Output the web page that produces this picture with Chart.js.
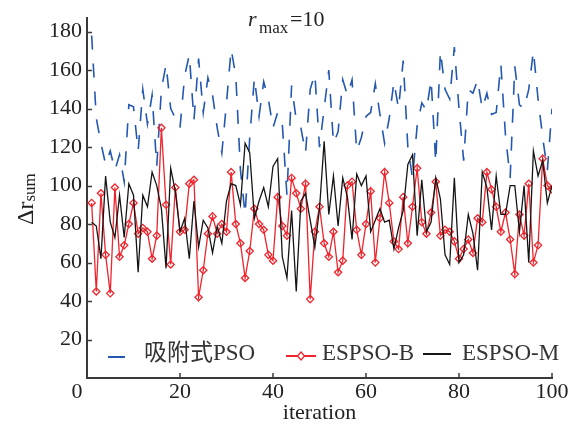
<!DOCTYPE html>
<html>
<head>
<meta charset="utf-8">
<script src="https://cdn.jsdelivr.net/npm/chart.js@4/dist/chart.umd.min.js"></script>
<style>
  html, body { margin: 0; padding: 0; background: #fff; }
  #wrap { width: 579px; height: 425px; }
</style>
</head>
<body>
<div id="wrap"><canvas id="chart" width="579" height="425"></canvas></div>
<script>
// iteration 1..100
const iterations = Array.from({ length: 100 }, (_, i) => i + 1);

// 吸附式PSO (dashed blue)
const psoValues = [
  178, 135, 122, 111, 118, 108, 116, 102, 142, 141,
  118, 150, 132, 147, 110, 150, 163, 140, 135, 130,
  157, 168, 134, 166, 138, 156, 147, 130, 117, 143,
  171, 157, 108, 85, 125, 156, 136, 154, 145, 130,
  138, 132, 95, 152, 134, 130, 117, 150, 158, 120,
  140, 160, 122, 128, 155, 147, 155, 118, 125, 136,
  138, 153, 137, 122, 135, 154, 140, 165, 120, 104,
  131, 143, 139, 155, 112, 170, 150, 145, 172, 140,
  113, 150, 148, 155, 140, 148, 137, 138, 163, 126,
  104, 162, 142, 140, 150, 170, 145, 125, 108, 140
];

// ESPSO-B (red, diamonds)
const espsoBValues = [
  91, 45, 96, 64, 44, 99, 63, 69, 80, 91,
  75, 78, 76, 62, 74, 130, 90, 59, 99, 76,
  77, 101, 103, 42, 56, 75, 84, 75, 80, 76,
  107, 80, 70, 52, 66, 88, 80, 77, 64, 61,
  94, 79, 74, 104, 96, 88, 101, 41, 76, 89,
  70, 63, 76, 55, 61, 100, 102, 77, 64, 80,
  97, 60, 83, 107, 91, 71, 67, 94, 70, 89,
  109, 81, 75, 86, 102, 74, 77, 76, 71, 62,
  67, 72, 65, 83, 81, 107, 98, 89, 76, 86,
  72, 54, 85, 74, 101, 60, 69, 114, 100, 98
];

// ESPSO-M (black)
const espsoMValues = [
  81, 79, 62, 105, 81, 73, 95, 73, 101, 95,
  55, 95, 89, 107, 100, 88, 57, 109, 97, 76,
  83, 62, 92, 68, 82, 78, 65, 79, 70, 92,
  101, 100, 90, 122, 117, 83, 92, 99, 89, 110,
  114, 63, 52, 87, 45, 92, 96, 82, 68, 88,
  123, 85, 105, 79, 104, 94, 72, 106, 100, 105,
  76, 82, 88, 81, 82, 67, 78, 87, 111, 116,
  74, 103, 76, 81, 104, 93, 64, 59, 104, 60,
  64, 85, 75, 56, 107, 99, 77, 105, 85, 85,
  100, 100, 76, 100, 60, 118, 105, 113, 91, 100
];

const seriesNames = ["吸附式PSO", "ESPSO-B", "ESPSO-M"];
const xTicks = [0, 20, 40, 60, 80, 100];
const yTicks = [20, 40, 60, 80, 100, 120, 140, 160, 180];

const BLUE = "#2458b0";
const RED = "#f0242c";
const BLACK = "#151515";
const AXIS = "#3a3a3a";
const SERIF = '"Liberation Serif", "Noto Sans CJK SC", serif';

function toPoints(values) {
  return values.map((v, i) => ({ x: iterations[i], y: v }));
}

// inward ticks, x labels, legend and the two titles
const decorations = {
  id: "decorations",
  afterDraw(chart) {
    const ctx = chart.ctx;
    const xs = chart.scales.x;
    const ys = chart.scales.y;
    const area = chart.chartArea;
    ctx.save();

    // tick marks pointing inside
    ctx.strokeStyle = AXIS;
    ctx.lineWidth = 1.5;
    ctx.beginPath();
    yTicks.forEach(v => {
      const py = Math.round(ys.getPixelForValue(v)) + 0.5;
      ctx.moveTo(area.left, py);
      ctx.lineTo(area.left + 5, py);
    });
    xTicks.forEach(v => {
      if (v === 0) return;
      const px = Math.round(xs.getPixelForValue(v));
      ctx.moveTo(px, area.bottom);
      ctx.lineTo(px, area.bottom - 5);
    });
    ctx.stroke();

    // x tick labels
    ctx.fillStyle = "#222";
    ctx.font = "22px " + SERIF;
    ctx.textAlign = "center";
    ctx.textBaseline = "middle";
    xTicks.forEach(v => {
      let px = xs.getPixelForValue(v);
      if (v === 0) px -= 10;
      ctx.fillText(String(v), px, 392);
    });
    ctx.fillText("iteration", (area.left + area.right) / 2, 413);

    // y title: Δr with subscript sum
    ctx.save();
    ctx.translate(33, 225);
    ctx.rotate(-Math.PI / 2);
    ctx.textAlign = "left";
    ctx.textBaseline = "alphabetic";
    ctx.font = "24px " + SERIF;
    ctx.fillText("Δr", 0, 0);
    const w = ctx.measureText("Δr").width;
    ctx.font = "17px " + SERIF;
    ctx.fillText("sum", w, 2);
    ctx.restore();

    // top title: r_max=10
    ctx.textAlign = "left";
    ctx.textBaseline = "alphabetic";
    ctx.font = "italic 22px " + SERIF;
    ctx.fillText("r", 248, 26);
    ctx.font = "17px " + SERIF;
    ctx.fillText("max", 259, 33);
    ctx.font = "22px " + SERIF;
    ctx.fillText("=10", 290, 26);

    // legend
    ctx.font = "23px " + SERIF;
    ctx.fillStyle = "#333";
    ctx.textBaseline = "middle";
    ctx.lineWidth = 2;

    ctx.strokeStyle = BLUE;
    ctx.beginPath();
    ctx.moveTo(108, 357);
    ctx.lineTo(125, 357);
    ctx.stroke();
    ctx.fillText(seriesNames[0], 144, 354);

    ctx.strokeStyle = RED;
    ctx.beginPath();
    ctx.moveTo(286, 356);
    ctx.lineTo(316, 356);
    ctx.stroke();
    ctx.lineWidth = 1.3;
    ctx.fillStyle = "#fff";
    ctx.beginPath();
    ctx.moveTo(301, 352);
    ctx.lineTo(304.5, 356);
    ctx.lineTo(301, 360);
    ctx.lineTo(297.5, 356);
    ctx.closePath();
    ctx.fill();
    ctx.stroke();
    ctx.fillStyle = "#333";
    ctx.fillText(seriesNames[1], 322, 354);

    ctx.lineWidth = 2;
    ctx.strokeStyle = BLACK;
    ctx.beginPath();
    ctx.moveTo(423, 354);
    ctx.lineTo(451, 354);
    ctx.stroke();
    ctx.fillText(seriesNames[2], 462, 354);

    ctx.restore();
  }
};

new Chart(document.getElementById("chart"), {
  type: "line",
  data: {
    datasets: [
      {
        label: seriesNames[0],
        data: toPoints(psoValues),
        borderColor: BLUE,
        borderWidth: 1.6,
        borderDash: [14, 14],
        pointRadius: 0,
        tension: 0,
        order: 3
      },
      {
        label: seriesNames[1],
        data: toPoints(espsoBValues),
        borderColor: RED,
        borderWidth: 1.3,
        pointStyle: "rectRot",
        pointRadius: 3.6,
        pointBorderWidth: 1.3,
        pointBorderColor: RED,
        pointBackgroundColor: "rgba(255,255,255,0)",
        tension: 0,
        order: 2
      },
      {
        label: seriesNames[2],
        data: toPoints(espsoMValues),
        borderColor: BLACK,
        borderWidth: 1.3,
        pointRadius: 0,
        tension: 0,
        order: 1
      }
    ]
  },
  options: {
    responsive: false,
    animation: false,
    layout: { padding: { top: 14, right: 27, left: 0, bottom: 0 } },
    plugins: { legend: { display: false }, tooltip: { enabled: false } },
    scales: {
      x: {
        type: "linear",
        min: 0,
        max: 100,
        grid: { display: false, drawTicks: false },
        border: { display: true, color: AXIS, width: 2 },
        ticks: { display: false, stepSize: 20 },
        afterFit(scale) { scale.height = 47; }
      },
      y: {
        min: 0,
        max: 187,
        grid: { display: false, drawTicks: false },
        border: { display: true, color: AXIS, width: 2 },
        ticks: {
          autoSkip: false,
          padding: 5,
          color: "#222",
          font: { family: SERIF, size: 22 }
        },
        afterBuildTicks(scale) {
          scale.ticks = yTicks.map(v => ({ value: v }));
        },
        afterFit(scale) { scale.width = 87; }
      }
    }
  },
  plugins: [decorations]
});
</script>
</body>
</html>
